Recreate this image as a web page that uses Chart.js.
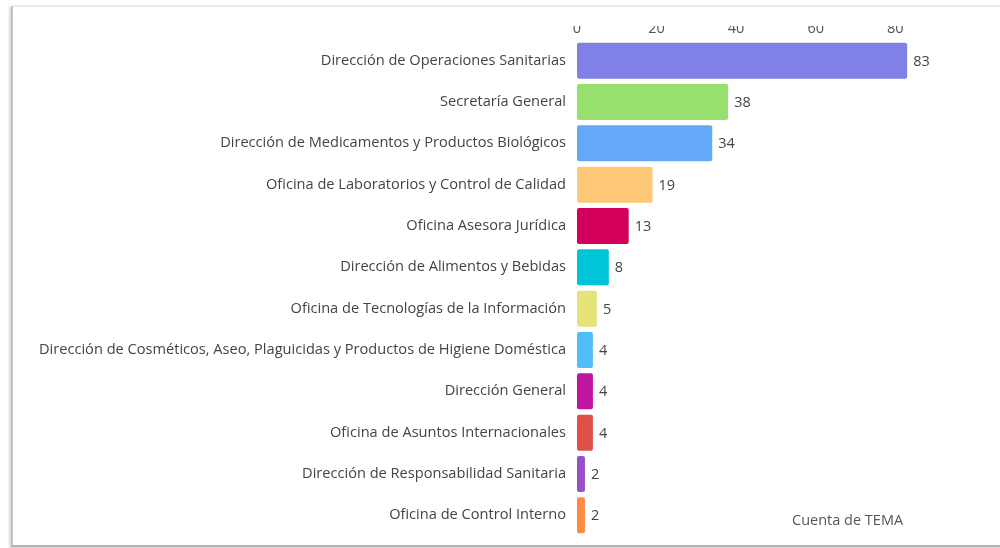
<!DOCTYPE html>
<html>
<head>
<meta charset="utf-8">
<script src="https://cdn.jsdelivr.net/npm/chart.js@4.4.1/dist/chart.umd.min.js"></script>
<style>
  html, body { margin: 0; padding: 0; background: #fff; }
  body { width: 1000px; height: 548px; position: relative; overflow: hidden; font-family: "Open Sans", sans-serif; }
  #frame {
    position: absolute; left: 11px; top: 6px; width: 1000px; height: 538px;
    background: #fff;
    border-top: 1px solid #e4e4e4;
    border-left: 2px solid #c4c4c4;
    border-bottom: 2px solid #b4b4b4;
    box-shadow: -1px 1px 3px rgba(0,0,0,0.25);
  }
  #clip { position: absolute; left: 0; top: 26px; width: 1000px; height: 518px; overflow: hidden; }
  #clip canvas { position: absolute; left: 0; top: -26px; }
  #note { position: absolute; left: 792px; top: 510px; font-size: 14.5px; color: #555; }
</style>
</head>
<body>
<div id="frame"></div>
<div id="clip"><canvas id="temasChart" width="1000" height="546"></canvas></div>
<div id="note">Cuenta de TEMA</div>
<script>
var categories = [
    "Dirección de Operaciones Sanitarias",
    "Secretaría General",
    "Dirección de Medicamentos y Productos Biológicos",
    "Oficina de Laboratorios y Control de Calidad",
    "Oficina Asesora Jurídica",
    "Dirección de Alimentos y Bebidas",
    "Oficina de Tecnologías de la Información",
    "Dirección de Cosméticos, Aseo, Plaguicidas y Productos de Higiene Doméstica",
    "Dirección General",
    "Oficina de Asuntos Internacionales",
    "Dirección de Responsabilidad Sanitaria",
    "Oficina de Control Interno"
];
var counts = [83, 38, 34, 19, 13, 8, 5, 4, 4, 4, 2, 2];
var barColors = [
    "#8080E6", "#98E06E", "#64A8F8", "#FFC878", "#D2005A", "#00C4D8",
    "#E4E478", "#50BEF8", "#BE14A0", "#DC5046", "#9650C8", "#FF8C46"
];
var xTicks = [0, 20, 40, 60, 80];

// value labels to the right of each bar
var valueLabels = {
    id: "valueLabels",
    afterDatasetsDraw: function(chart) {
        var ctx = chart.ctx;
        var meta = chart.getDatasetMeta(0);
        ctx.save();
        ctx.font = "14.5px 'Open Sans'";
        ctx.fillStyle = "#444";
        ctx.textBaseline = "middle";
        ctx.textAlign = "left";
        meta.data.forEach(function(bar, i) {
            ctx.fillText(String(counts[i]), bar.x + 6, bar.y + 1);
        });
        ctx.restore();
    }
};

new Chart(document.getElementById("temasChart"), {
    type: "bar",
    data: {
        labels: categories,
        datasets: [{
            label: "Cuenta de TEMA",
            data: counts,
            backgroundColor: barColors,
            borderRadius: 2,
            borderSkipped: false,
            barPercentage: 0.87,
            categoryPercentage: 1
        }]
    },
    options: {
        indexAxis: "y",
        responsive: false,
        animation: false,
        layout: { padding: { left: 0, right: 65, top: 0, bottom: 10 } },
        plugins: {
            legend: { display: false },
            tooltip: { enabled: false }
        },
        scales: {
            x: {
                position: "top",
                min: 0,
                max: 90,
                grid: { display: false, drawTicks: false },
                border: { display: false },
                afterBuildTicks: function(scale) {
                    scale.ticks = xTicks.map(function(v) { return { value: v }; });
                },
                afterFit: function(scale) { scale.height = 40; },
                ticks: {
                    padding: 2,
                    color: "#555",
                    font: { family: "'Open Sans'", size: 14.5 }
                }
            },
            y: {
                grid: { display: false, drawTicks: false },
                border: { display: false },
                afterFit: function(scale) {
                    scale.width = 577;
                    scale.paddingTop = 0;
                    scale.paddingBottom = 0;
                },
                ticks: {
                    padding: 11,
                    color: "#444",
                    autoSkip: false,
                    font: { family: "'Open Sans'", size: 14.6 }
                }
            }
        }
    },
    plugins: [valueLabels]
});
</script>
</body>
</html>
